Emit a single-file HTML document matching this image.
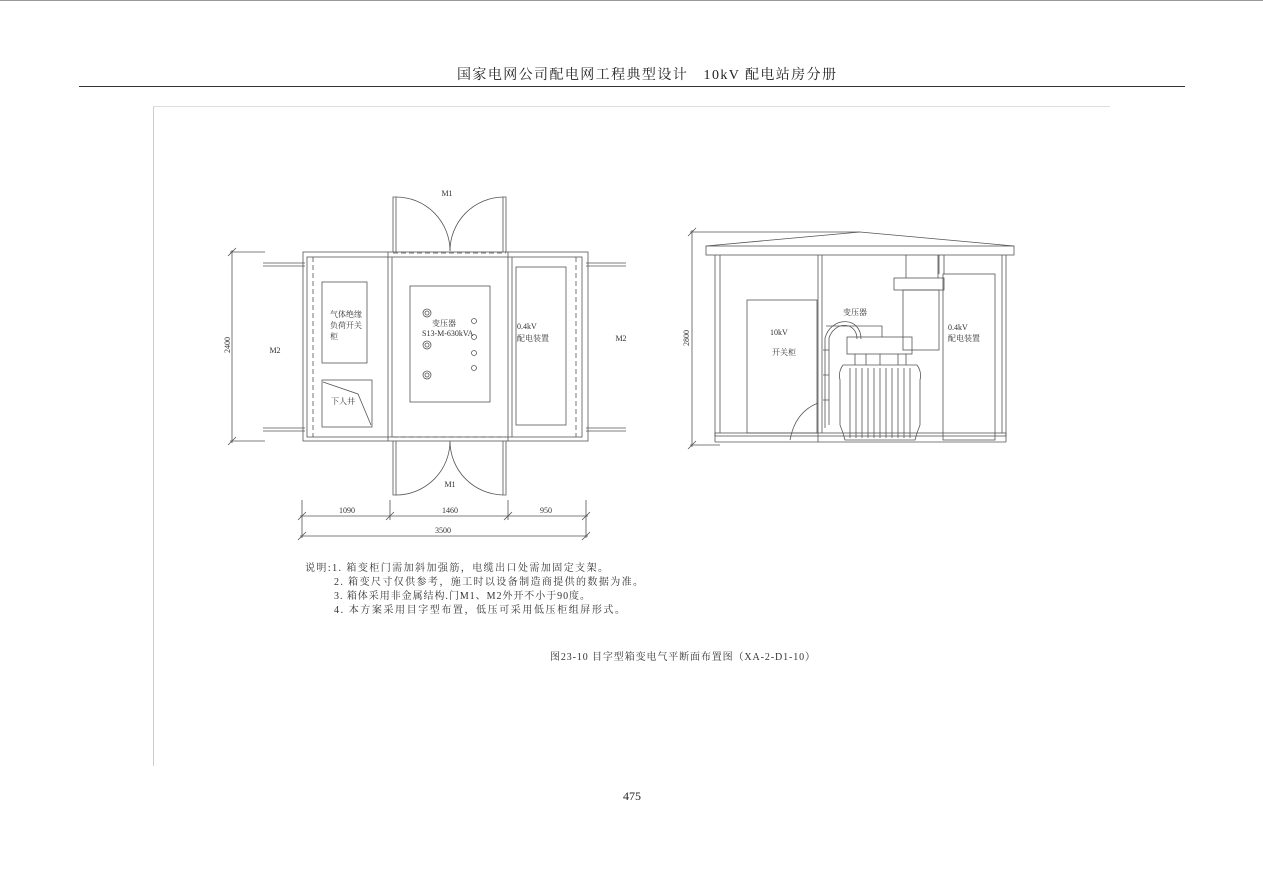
<!DOCTYPE html>
<html><head><meta charset="utf-8"><style>
html,body{margin:0;padding:0;background:#fff;}
svg{display:block;font-family:"Liberation Serif","Noto Serif CJK SC","Noto Sans CJK SC",serif;}
</style></head><body>
<svg width="1263" height="892" viewBox="0 0 1263 892" xmlns="http://www.w3.org/2000/svg">
<rect width="1263" height="892" fill="#fff"/>
<line x1="0" y1="0.5" x2="1263" y2="0.5" stroke="#999" stroke-width="1"/>
<text x="457" y="79" font-size="14" textLength="379" lengthAdjust="spacing" fill="#222">国家电网公司配电网工程典型设计　10kV 配电站房分册</text>
<line x1="79" y1="86.5" x2="1185" y2="86.5" stroke="#333" stroke-width="1"/>
<line x1="153.5" y1="106" x2="153.5" y2="766" stroke="#ccc"/>
<line x1="153" y1="106.5" x2="1110" y2="106.5" stroke="#ddd"/>

<g stroke="#555" fill="none" stroke-width="0.8">
<rect x="303" y="252" width="285" height="189"/>
<rect x="307" y="257" width="275" height="180"/>
<line x1="388" y1="252" x2="388" y2="441"/><line x1="392" y1="257" x2="392" y2="437"/>
<line x1="508" y1="252" x2="508" y2="441"/><line x1="512" y1="257" x2="512" y2="437"/>
<line x1="313" y1="257" x2="313" y2="437" stroke-dasharray="5,3"/>
<line x1="576" y1="257" x2="576" y2="437" stroke-dasharray="5,3"/>
<line x1="393" y1="253" x2="506" y2="253" stroke-dasharray="5,3"/>
<line x1="393" y1="437" x2="506" y2="437" stroke-dasharray="5,3"/>
<path d="M393 252 V197 H396 V252"/><path d="M506 252 V197 H503 V252"/>
<path d="M396 197 A54 54 0 0 1 450 251"/><path d="M503 197 A54 54 0 0 0 450 251"/>
<path d="M393 441 V495 H396 V441"/><path d="M506 441 V495 H503 V441"/>
<path d="M396 495 A54 54 0 0 0 450 441"/><path d="M503 495 A54 54 0 0 1 450 441"/>
<path d="M263 263 H305 M263 266 H305 M263 428 H305 M263 431 H305"/>
<path d="M586 263 H626 M586 266 H626 M586 428 H626 M586 431 H626"/>
<rect x="322" y="282" width="45" height="81"/>
<rect x="322" y="380" width="50" height="47"/>
<path d="M323 382 L358 394 L371 425"/>
<rect x="410" y="286" width="80" height="116"/>
<rect x="516" y="267" width="50" height="158"/>
<circle cx="427" cy="313" r="4"/><circle cx="427" cy="313" r="2"/>
<circle cx="427" cy="345" r="4"/><circle cx="427" cy="345" r="2"/>
<circle cx="427" cy="375" r="4"/><circle cx="427" cy="375" r="2"/>
<circle cx="474" cy="321" r="2.5"/><circle cx="474" cy="337" r="2.5"/><circle cx="474" cy="353" r="2.5"/><circle cx="474" cy="368" r="2.5"/>
<line x1="232" y1="250" x2="232" y2="443"/>
<path d="M228 256 L236 248 M228 445 L236 437"/>
<path d="M230 252 H265 M230 441 H265"/>
<line x1="300" y1="516" x2="588" y2="516"/>
<line x1="300" y1="536" x2="588" y2="536"/>
<path d="M302 500 V538 M390 500 V520 M508 500 V520 M586 500 V538"/>
<path d="M298 520 L306 512 M386 520 L394 512 M504 520 L512 512 M582 520 L590 512 M298 540 L306 532 M582 540 L590 532"/>

<path d="M706 246 L860 232 L1014 246"/>
<rect x="706" y="246" width="308" height="9"/>
<path d="M715 255 V442 M720 255 V433 M1002 255 V433 M1006 255 V442"/>
<rect x="715" y="433" width="291" height="3"/><line x1="715" y1="442" x2="1006" y2="442"/>
<path d="M818 255 V442 M822 255 V433"/>
<rect x="747" y="300" width="70" height="133"/>
<rect x="943" y="274" width="52" height="166"/>
<path d="M906 255 V278 M938 255 V278 M939 255 V274 M944 255 V274"/>
<rect x="894" y="278" width="50" height="12"/>
<rect x="903" y="290" width="36" height="60"/>
<rect x="847" y="337" width="65" height="17"/>
<path d="M843 365 Q838 372 840 380 V425 Q843 432 845 440 H915 Q917 432 920 425 V380 Q922 372 917 365 Z"/>
<path d="M850 368 V438 M856 368 V438 M862 368 V438 M868 368 V438 M874 368 V438 M880 368 V438 M886 368 V438 M892 368 V438 M898 368 V438 M904 368 V438 M910 368 V438"/>
<path d="M855 354 V365 M866 354 V365 M880 354 V365 M898 354 V365 M906 354 V365"/>
<path d="M857 339 C857 322 835 320 829 338 V425 M861 339 C861 316 831 316 825 338 V428"/>
<path d="M823 350 H829 M823 375 H829 M823 400 H829"/>
<path d="M790 440 Q795 412 818 403"/>
<path d="M826 326 H882 V337"/>
<line x1="692" y1="230" x2="692" y2="447"/>
<path d="M688 236 L696 228 M688 449 L696 441"/>
<path d="M690 232 H860 M690 445 H720"/>
</g>

<g font-size="8" fill="#333">
<text x="447" y="196" text-anchor="middle">M1</text>
<text x="450" y="487" text-anchor="middle">M1</text>
<text x="275" y="353" text-anchor="middle">M2</text>
<text x="621" y="341" text-anchor="middle">M2</text>
<text x="330" y="317">气体绝缘</text>
<text x="330" y="328">负荷开关</text>
<text x="330" y="339">柜</text>
<text x="331" y="404">下人井</text>
<text x="432" y="326">变压器</text>
<text x="422" y="336">S13-M-630kVA</text>
<text x="517" y="329">0.4kV</text>
<text x="517" y="341">配电装置</text>
<text x="347" y="513" text-anchor="middle">1090</text>
<text x="450" y="513" text-anchor="middle">1460</text>
<text x="546" y="513" text-anchor="middle">950</text>
<text x="443" y="533" text-anchor="middle">3500</text>
<text transform="translate(230,345) rotate(-90)" text-anchor="middle">2400</text>
<text transform="translate(689,338) rotate(-90)" text-anchor="middle">2800</text>
<text x="770" y="335">10kV</text>
<text x="772" y="355">开关柜</text>
<text x="843" y="315">变压器</text>
<text x="948" y="330">0.4kV</text>
<text x="948" y="341">配电装置</text>
</g>
<g font-size="10" fill="#333">
<text x="305" y="571" textLength="303" lengthAdjust="spacing">说明:1.  箱变柜门需加斜加强筋，电缆出口处需加固定支架。</text>
<text x="334" y="585" textLength="309" lengthAdjust="spacing">2.  箱变尺寸仅供参考，施工时以设备制造商提供的数据为准。</text>
<text x="334" y="599" textLength="256" lengthAdjust="spacing">3.  箱体采用非金属结构.门M1、M2外开不小于90度。</text>
<text x="334" y="613" textLength="291" lengthAdjust="spacing">4.  本方案采用目字型布置，低压可采用低压柜组屏形式。</text>
<text x="550" y="660" textLength="265" lengthAdjust="spacing">图23-10  目字型箱变电气平断面布置图（XA-2-D1-10）</text>
</g>
<text x="632" y="800" font-size="12" text-anchor="middle" fill="#222">475</text>
</svg>
</body></html>
